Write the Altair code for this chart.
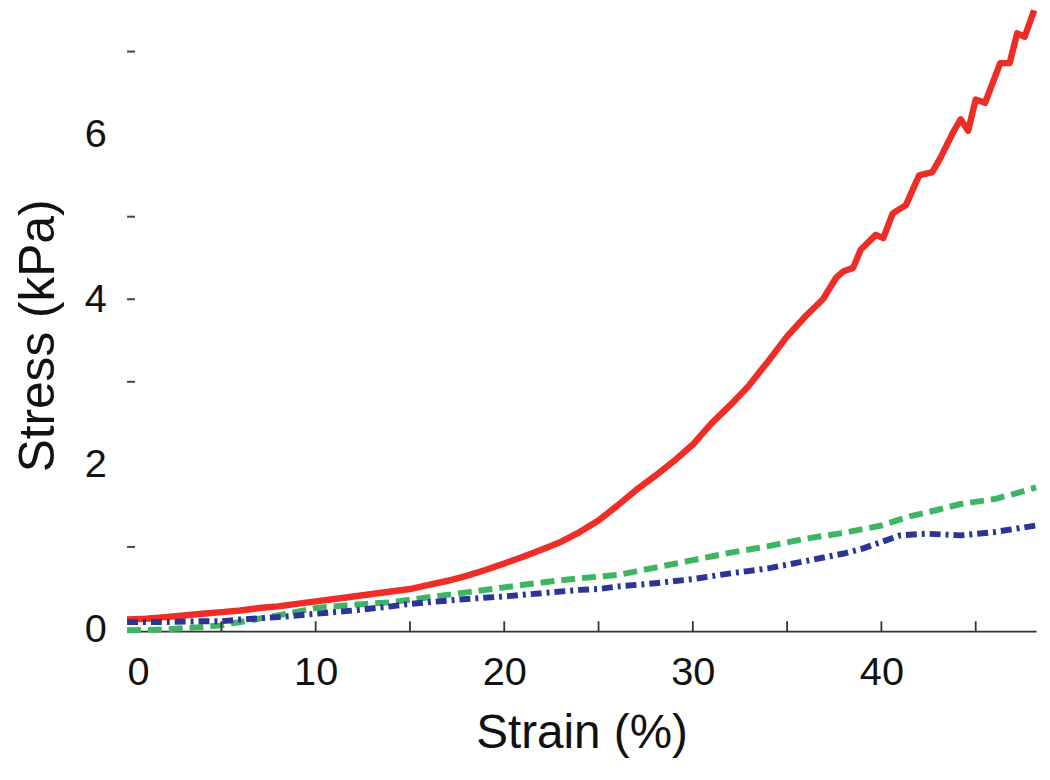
import altair as alt
import pandas as pd

# ---- data ----
red_x = [0, 1, 2, 3, 4, 5, 6, 7, 8, 9, 10, 11, 12, 13, 14, 15, 16, 17, 18, 19, 20,
         21, 22, 23, 24, 25, 26, 27, 28, 29, 30, 31, 32, 33, 34, 35, 36, 36.9,
         37.6, 38.0, 38.5, 38.9, 39.7, 40.1, 40.6, 41.3, 42.0, 42.7, 43.1, 43.8,
         44.2, 44.6, 45.0, 45.5, 46.3, 46.8, 47.2, 47.6, 48.1]
red_y = [0.12, 0.13, 0.15, 0.17, 0.19, 0.21, 0.23, 0.26, 0.28, 0.31, 0.34, 0.37, 0.40,
         0.43, 0.46, 0.49, 0.54, 0.59, 0.65, 0.72, 0.80, 0.88, 0.97, 1.06, 1.18, 1.32,
         1.50, 1.69, 1.86, 2.04, 2.24, 2.50, 2.72, 2.96, 3.25, 3.55, 3.80, 4.00,
         4.26, 4.34, 4.38, 4.60, 4.78, 4.74, 5.04, 5.14, 5.50, 5.54, 5.70, 6.02,
         6.18, 6.04, 6.42, 6.38, 6.86, 6.86, 7.22, 7.18, 7.50]

green_x = [0, 2, 4, 5, 6, 8, 10, 12, 14, 15, 16, 18, 20, 22, 24, 25, 26, 28, 30,
           32, 34, 36, 38, 40, 41.5, 43, 44.2, 46, 47, 48.2]
green_y = [-0.01, 0.0, 0.03, 0.05, 0.09, 0.17, 0.26, 0.30, 0.33, 0.36, 0.39, 0.45,
           0.51, 0.57, 0.62, 0.64, 0.66, 0.75, 0.84, 0.93, 1.01, 1.10, 1.17, 1.26,
           1.37, 1.45, 1.52, 1.58, 1.64, 1.72]

blue_x = [0, 2, 4, 5, 6, 8, 10, 12, 14, 15, 16, 18, 20, 22, 24, 25, 26, 28, 30,
          32, 34, 36, 38, 39, 40, 41, 42.4, 44.2, 46, 48.2]
blue_y = [0.09, 0.09, 0.10, 0.10, 0.12, 0.15, 0.19, 0.23, 0.28, 0.31, 0.33, 0.37,
          0.40, 0.44, 0.48, 0.49, 0.52, 0.56, 0.61, 0.68, 0.74, 0.83, 0.92, 0.98,
          1.06, 1.14, 1.16, 1.14, 1.18, 1.26]

x_label_values = [0, 10, 20, 30, 40]
x_tick_values = [5, 10, 15, 20, 25, 30, 35, 40, 45]
y_label_values = [0, 2, 4, 6]
y_tick_values = [1, 3, 4, 5, 7]

FONT = "Liberation Sans"
W, H = 916, 619

xscale = alt.Scale(domain=[0, 48.2], nice=False, zero=False)
yscale = alt.Scale(domain=[-0.02, 7.42], nice=False, zero=False)

x_axis = alt.Axis(
    values=x_label_values, format="d", labelFont=FONT, labelFontSize=40,
    labelColor="#111", labelPadding=22, ticks=False, tickSize=0, grid=False,
    domain=True, domainColor="#333", domainWidth=2, labelFlush=True,
    title="Strain (%)", titleFont=FONT, titleFontSize=48, titleFontWeight="normal",
    titleColor="#111", titleX=W / 2, titleY=117, titleAlign="center",
    titleBaseline="alphabetic",
)
y_axis = alt.Axis(
    values=y_label_values, format="d", labelFont=FONT, labelFontSize=40,
    labelColor="#111", labelPadding=21, ticks=False, tickSize=0, grid=False,
    domain=False, title="Stress (kPa)", titleFont=FONT, titleFontSize=50,
    titleFontWeight="normal", titleColor="#111", titleAngle=270, titleX=-74,
    titleY=321, titleAlign="center", titleBaseline="alphabetic",
)

red_df = pd.DataFrame({"x": red_x, "y": red_y})
green_df = pd.DataFrame({"x": green_x, "y": green_y})
blue_df = pd.DataFrame({"x": blue_x, "y": blue_y})


def series(df, color, dash, width):
    kw = dict(color=color, strokeWidth=width, strokeCap="butt", strokeJoin="round")
    if dash:
        kw["strokeDash"] = dash
    return alt.Chart(df).mark_line(**kw).encode(
        x=alt.X("x:Q", scale=xscale, axis=x_axis),
        y=alt.Y("y:Q", scale=yscale, axis=y_axis),
    )


red = series(red_df, "#ee2d27", None, 6.5)
green = series(green_df, "#3db562", [14, 7], 6)
blue = series(blue_df, "#2b3497", [11, 5, 3, 5], 6)

xticks = alt.Chart(pd.DataFrame({"x": x_tick_values})).mark_rule(
    color="#333", strokeWidth=1.8
).encode(
    x=alt.X("x:Q", scale=xscale, axis=x_axis),
    y=alt.value(H),
    y2=alt.value(H - 10),
)
yticks = alt.Chart(pd.DataFrame({"y": y_tick_values})).mark_rule(
    color="#444", strokeWidth=2
).encode(
    y=alt.Y("y:Q", scale=yscale, axis=y_axis),
    x=alt.value(0),
    x2=alt.value(8),
)

chart = alt.layer(red, green, blue, xticks, yticks).properties(
    width=W, height=H,
    autosize=alt.AutoSizeParams(type="none"),
    padding={"left": 120, "top": 6, "right": 6, "bottom": 139},
    background="white",
).configure_view(stroke=None)

chart.save("out.html", embed_options={"renderer": "svg", "actions": False})
